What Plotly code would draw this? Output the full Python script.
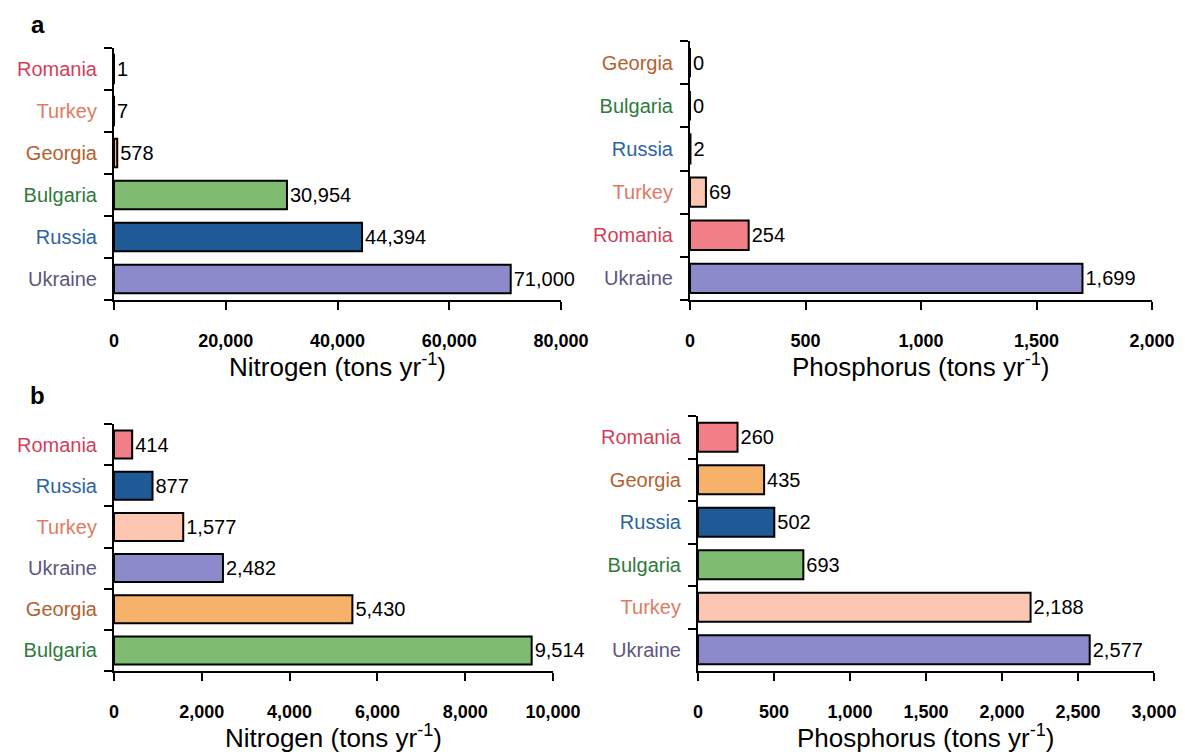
import plotly.graph_objects as go

W, H = 1185, 755

# ---- data ----
a_n_countries = ["Romania", "Turkey", "Georgia", "Bulgaria", "Russia", "Ukraine"]
a_n_values = [1, 7, 578, 30954, 44394, 71000]
a_p_countries = ["Georgia", "Bulgaria", "Russia", "Turkey", "Romania", "Ukraine"]
a_p_values = [0, 0, 2, 69, 254, 1699]
b_n_countries = ["Romania", "Russia", "Turkey", "Ukraine", "Georgia", "Bulgaria"]
b_n_values = [414, 877, 1577, 2482, 5430, 9514]
b_p_countries = ["Romania", "Georgia", "Russia", "Bulgaria", "Turkey", "Ukraine"]
b_p_values = [260, 435, 502, 693, 2188, 2577]

a_n_ticks = [0, 20000, 40000, 60000, 80000]
a_p_ticks = [0, 500, 1000, 1500, 2000]
b_n_ticks = [0, 2000, 4000, 6000, 8000, 10000]
b_p_ticks = [0, 500, 1000, 1500, 2000, 2500, 3000]

n_title = "Nitrogen (tons yr<sup>-1</sup>)"
p_title = "Phosphorus (tons yr<sup>-1</sup>)"

# ---- styles ----
fill = {"Romania": "#f27f88", "Turkey": "#fcc6b2", "Georgia": "#f7b26a",
        "Bulgaria": "#80bb72", "Russia": "#1e5a96", "Ukraine": "#8c8acb"}
label_col = {"Romania": "#d23f5b", "Turkey": "#e07a62", "Georgia": "#b3622e",
             "Bulgaria": "#2f7a3c", "Russia": "#2c64a0", "Ukraine": "#5e5580"}

FONT = "Liberation Sans, Arial, sans-serif"

# panel geometry in pixels: x0, x1, top, bottom ; title centre y
panels = [
    (a_n_countries, a_n_values, a_n_ticks, n_title, (106, 553, 40, 292), 357),
    (a_p_countries, a_p_values, a_p_ticks, p_title, (682, 1144, 33, 292), 357),
    (b_n_countries, b_n_values, b_n_ticks, n_title, (106, 545, 416, 663), 728),
    (b_p_countries, b_p_values, b_p_ticks, p_title, (690, 1146, 408, 663), 728),
]

fig = go.Figure()
layout = dict(
    template="none",
    width=W, height=H, margin=dict(l=0, r=0, t=0, b=0, autoexpand=False),
    paper_bgcolor="white", plot_bgcolor="white", showlegend=False,
    bargap=0.32, annotations=[],
)

for i, (cats, vals, ticks, title, (x0, x1, top, bot), tty) in enumerate(panels):
    n = "" if i == 0 else str(i + 1)
    fig.add_trace(go.Bar(
        x=vals, y=cats, orientation="h",
        xaxis="x" + n, yaxis="y" + n,
        marker=dict(color=[fill[c] for c in cats], line=dict(color="black", width=2)),
        text=[f"{v:,}" for v in vals], textposition="outside",
        textfont=dict(family=FONT, size=20, color="black"),
        constraintext="none", cliponaxis=False, hoverinfo="skip",
    ))
    layout["xaxis" + n] = dict(
        domain=[x0 / W, x1 / W], anchor="y" + n, automargin=False,
        range=[0, ticks[-1]], tickmode="array", tickvals=ticks,
        ticktext=[f"{t:,}" for t in ticks],
        showgrid=False, zeroline=False, showline=True, linecolor="black", linewidth=2,
        ticks="outside", ticklen=8, tickwidth=2, tickcolor="black",
        ticklabelstandoff=15,
        tickfont=dict(family=FONT, size=18, color="black", weight="bold"),
        fixedrange=True,
    )
    layout["yaxis" + n] = dict(
        domain=[1 - bot / H, 1 - top / H], anchor="x" + n, automargin=False,
        type="category", categoryorder="array", categoryarray=cats,
        range=[len(cats) - 0.5, -0.5],
        tickmode="array", tickvals=cats,
        ticktext=[f'<span style="color:{label_col[c]}">{c}</span>' for c in cats],
        tickson="boundaries",
        showgrid=False, zeroline=False, showline=True, linecolor="black", linewidth=2,
        ticks="outside", ticklen=8, tickwidth=2, tickcolor="black",
        ticklabelstandoff=11,
        tickfont=dict(family=FONT, size=20),
        fixedrange=True,
    )
    layout["annotations"].append(dict(
        text=title, xref="paper", yref="paper",
        x=(x0 + x1) / 2 / W, y=1 - tty / H, xanchor="center", yanchor="middle",
        showarrow=False, font=dict(family=FONT, size=26, color="black"),
    ))

layout["annotations"].append(dict(text="<b>a</b>", xref="paper", yref="paper",
                                  x=21 / W, y=1 - 17 / H, xanchor="left", yanchor="middle",
                                  showarrow=False, font=dict(family=FONT, size=24, color="black")))
layout["annotations"].append(dict(text="<b>b</b>", xref="paper", yref="paper",
                                  x=20 / W, y=1 - 387 / H, xanchor="left", yanchor="middle",
                                  showarrow=False, font=dict(family=FONT, size=24, color="black")))

fig.update_layout(**layout)
fig.write_html("out.html")
